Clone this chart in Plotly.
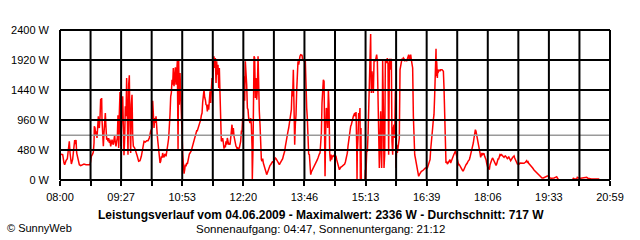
import plotly.graph_objects as go

# minutes after 08:00 , power in W
block_0800 = [
(0.0,416),(3.8,405),(5.7,272),(6.6,245),(8.5,309),(10.4,341),(11.3,432),(12.3,555),(13.2,620),(14.2,432),
(15.1,272),(16.1,256),(17.9,331),(18.9,416),(19.8,576),(20.8,640),(21.7,576),(22.7,640),(23.6,432),(24.6,379),
(25.5,341),(27.4,245),(29.3,229),(31.2,245),(34.0,256),(36.8,245),(39.7,245),(42.5,245),(43.4,299),(44.4,379),
(46.3,416),(47.2,448),(48.2,592),(48.6,859),(49.6,832),(50.5,725),(51.5,779),(52.4,672),(53.3,779),(54.3,1019),
(54.8,885),(55.7,832),(56.7,1003),(57.6,1301),(58.5,1152),(59.0,1312),(59.5,965),(60.4,619),(61.4,539),(62.3,752),
(63.3,901),(64.2,1072),(65.2,832),(66.1,645),(67.0,672),(68.0,619),(68.9,672),(69.9,592),(70.8,645),(71.8,539),
(72.7,619),(73.7,645),(74.6,592),(75.5,565),(76.5,645),(77.4,715),(78.4,592),(79.3,539),(80.3,619),(81.2,672),
(82.1,1035),(83.1,512),(84.0,1056),(85.0,1408),(85.9,539),(86.9,992),(87.8,1035),(88.8,1339),(89.7,512),(90.6,395),
(91.6,672),(92.5,1179),(93.5,1019),(94.4,1632),(95.4,992),(96.3,405),(97.3,1525),(98.2,1675),(99.1,885),(100.1,432),
(101.0,1205),(102.0,1365),(102.9,725),(103.9,539),(105.8,512),(107.6,459),(109.5,379),(111.4,299),(113.3,309),(115.2,379),
(117.1,501),(119.0,619),(120.9,608),(122.8,629),(124.7,629),(126.5,672),(128.4,779),(130.3,832),
]
block_1010 = [
(131.3,1269),(132.2,912),(133.2,832),(134.1,992),(135.1,912),(136.0,1019),(136.9,779),(137.9,699),(138.8,592),(139.8,485),
(140.7,405),(141.7,272),(142.6,299),(143.6,379),(144.5,352),(145.4,432),(146.4,379),(147.3,363),(148.3,405),(149.2,416),
(150.2,379),(151.1,432),(152.1,512),(153.0,592),(153.9,672),(154.9,832),(155.8,1045),(156.8,1339),(157.7,1392),(158.7,1605),
(159.6,1525),(160.5,1792),(161.5,1499),(162.4,1632),(163.4,1803),(164.3,1525),(165.3,1899),(166.2,1904),(167.2,496),(168.1,1904),
(169.0,1205),(170.0,1712),(170.9,1392),(171.9,779),(172.8,768),(173.8,416),(174.7,192),(175.7,101),(176.6,165),(177.5,245),
(178.5,219),(179.4,272),(180.4,256),(181.3,325),(182.3,379),(183.2,416),(184.2,432),(185.1,448),(186.0,469),(187.0,512),
(187.9,555),(188.9,576),(189.8,608),(190.8,645),(191.7,715),(192.7,752),(193.6,789),(194.5,789),(195.5,821),(196.4,843),
(197.4,885),(198.3,912),(199.3,965),(200.2,1035),(201.2,1072),(202.1,1248),(203.0,1312),(204.0,1445),(204.9,1323),(205.9,1285),
(206.8,1205),(207.8,1195),(208.7,1099),(209.6,1205),(210.6,1125),(211.5,1312),(212.5,1419),(213.4,1232),(214.4,1445),(215.3,1632),
(216.3,1605),(217.2,1899),(218.1,1979),(219.1,1792),(220.0,1952),(221.0,1552),(221.9,1899),(222.9,1685),(223.8,1845),(224.8,1472),
(225.7,1792),(226.6,1392),(227.6,939),(228.5,619),(229.5,629),(230.4,672),(231.4,592),(232.3,501),(233.3,555),(234.2,523),
(235.1,619),(236.1,565),(237.0,672),(238.0,576),(238.9,565),(239.9,592),(240.8,565),(241.8,672),(242.7,859),(243.6,885),
(244.6,725),(245.5,832),(246.5,699),(247.4,619),(248.4,592),(249.3,539),(250.3,523),(251.2,485),(252.1,512),(253.1,501),
(254.0,512),(255.0,565),(255.9,619),(256.9,779),(257.8,779),(258.7,992),(259.7,912),
]
block_1220 = [
(260.6,1659),(261.6,1269),(262.5,1899),(263.5,1739),(264.4,1525),(265.4,1152),(266.3,1125),(267.2,992),(268.2,912),(269.1,912),
(270.1,992),(271.0,885),(272.0,539),(272.4,16),(273.4,539),(274.3,1525),(274.8,1979),(275.7,1952),(276.7,1312),(277.6,1632),
(278.6,1285),(279.5,1445),(280.5,1979),(281.4,1099),(282.3,1099),(283.3,885),(284.2,565),(285.2,325),(286.1,299),(287.1,341),
(288.0,272),(289.0,245),(289.9,192),(290.8,165),(291.8,128),(292.7,85),(293.7,112),(294.6,149),(295.6,192),(296.5,219),
(297.5,235),(298.4,245),(299.3,267),(300.3,277),(301.2,299),(302.2,277),(303.1,309),(304.1,341),(305.0,352),(306.0,341),
(306.9,325),(307.8,299),(308.8,277),(309.7,256),(310.7,245),(311.6,267),(312.6,288),(313.5,299),(314.5,325),(315.4,341),
(316.3,384),(317.3,416),(318.2,459),(319.2,539),(320.1,619),(321.1,672),(322.0,752),(322.9,779),(323.9,832),(324.8,896),
(325.8,939),(326.7,992),(327.7,1125),(328.6,1445),(329.6,1339),(330.5,1765),(331.4,885),(332.4,565),(333.3,885),(334.3,1045),
(335.2,1419),(336.2,1792),(337.1,1899),(338.1,1845),(339.0,1952),(339.9,1979),(340.9,2005),(341.8,2005),(342.8,1995),(343.7,1925),
(344.7,1925),(345.6,1899),(346.6,1925),(347.5,1899),(348.4,1419),(349.4,1152),(350.3,992),(351.3,459),(352.2,416),(353.2,405),
(354.1,128),(355.1,85),(356.0,128),(357.0,149),(357.9,181),(358.8,192),(359.8,219),(360.7,235),(361.7,256),(362.6,283),
(363.6,309),(364.5,325),(365.4,352),(366.4,405),(367.3,416),(368.3,432),(369.2,565),(370.2,752),(371.1,1232),(372.1,1579),
(373.0,1605),(374.0,1579),(374.9,992),(375.4,59),(376.3,779),(377.2,1152),(378.2,1099),(379.1,832),(380.1,1445),(381.0,1205),
(382.0,432),(382.9,299),(383.9,405),(384.8,325),(385.7,379),(386.7,389),(387.6,379),(388.6,405),(390.0,379),
]
block_1430 = [
(390.9,379),(391.9,325),(392.8,272),(393.8,235),(394.7,192),(395.7,165),(396.6,181),(397.5,203),(399.4,219),(401.3,235),
(403.2,256),(404.2,288),(405.1,325),(406.0,379),(407.0,432),(407.9,539),(408.9,619),(409.8,752),(410.8,768),(411.7,859),
(412.6,885),(413.6,949),(414.5,965),(415.5,1019),(416.4,1045),(417.4,1072),(418.3,1019),(419.3,1088),(420.2,565),(420.7,0),
(421.1,448),(422.1,672),(423.0,1072),(424.0,992),(424.9,1152),(425.4,0),(426.3,832),(426.8,0),(432.0,0),(432.5,165),
(433.0,0),(434.4,448),(435.3,459),(436.3,725),(437.2,1232),(438.1,1232),(439.1,1941),(440.0,2336),(440.5,1685),(441.0,1392),
(441.9,1739),(442.9,1472),(443.8,1392),(444.8,1899),(445.7,1925),(446.6,1899),(447.6,1952),(448.5,2005),(449.5,1899),(450.4,1152),
(451.4,1003),(452.3,192),(453.3,672),(454.2,1099),(455.1,405),(455.6,192),(456.6,1099),(457.0,1925),(458.0,1152),(458.9,192),
(459.9,405),(460.8,1925),(461.8,1899),(462.7,1872),(463.6,1952),(464.6,1856),(465.5,405),(466.0,1099),(466.5,1845),(467.4,1941),
(468.4,1765),(469.3,1941),(470.2,619),(471.2,405),(472.1,832),(473.1,885),(474.0,672),(475.0,1419),(475.9,192),(476.9,565),
(477.8,432),(478.7,512),(479.7,565),(480.6,672),(481.6,1765),(482.5,1819),(483.5,1845),(484.4,1941),(485.4,1925),(486.3,1952),
(487.2,1941),(488.2,1899),(489.1,1925),(490.1,1925),(491.0,1899),(492.0,1941),(492.9,1952),(493.9,2005),(494.8,1925),(495.7,1979),
(496.7,2005),(497.6,1925),(498.6,1819),(499.5,1792),(500.5,1019),(501.4,432),(502.4,405),(503.3,352),(504.2,299),(505.2,245),
(506.1,192),(507.1,139),(508.0,59),(509.0,85),(509.9,112),(511.8,139),(513.7,149),(515.6,165),(517.5,192),(520.3,192),
]
block_1640 = [
(521.2,219),(522.2,235),(523.1,272),(524.1,325),(525.0,485),(526.0,672),(526.9,736),(527.8,832),(528.8,965),(529.7,1045),
(530.7,1365),(531.6,1605),(532.6,2101),(533.0,1659),(533.5,1899),(534.5,1632),(534.9,1765),(535.4,1712),(536.3,1749),(537.3,1765),
(538.2,1739),(539.2,1765),(541.1,1765),(543.0,1739),(543.9,1472),(544.9,965),(545.8,939),(546.3,325),(546.7,272),(547.7,299),
(548.6,256),(549.6,272),(550.5,288),(551.4,299),(552.4,325),(553.3,272),(554.3,309),(555.2,325),(556.2,352),(557.1,379),
(558.1,416),(559.0,432),(559.9,459),(560.9,432),(561.8,379),(562.8,341),(563.7,256),(564.7,235),(565.6,245),(566.6,219),
(567.5,192),(568.4,181),(569.4,165),(570.3,149),(571.3,149),(572.2,165),(573.2,192),(574.1,219),(575.1,245),(576.0,256),
(576.9,272),(577.9,299),(578.8,309),(579.8,325),(580.7,363),(581.7,405),(582.6,459),(583.5,512),(584.5,565),(585.4,592),
(586.4,672),(587.3,725),(588.3,805),(589.2,779),(590.2,725),(591.1,645),(592.0,592),(593.0,539),(593.9,512),(594.9,432),
(595.8,363),(596.8,395),(597.7,432),(598.7,405),(599.6,416),(600.5,427),(601.5,379),(602.4,363),(603.4,325),(604.3,272),
(605.3,192),(606.2,181),(607.2,203),(608.1,165),(609.1,245),(610.0,288),(611.0,309),(611.9,336),(612.8,352),(613.8,325),
(614.7,299),(615.7,272),(616.6,245),(617.6,235),(618.5,256),(619.4,309),(620.4,336),(621.3,336),(622.3,379),(623.2,405),
(624.2,395),(625.1,416),(626.1,395),(627.0,379),(627.9,379),(628.9,363),(629.8,379),(630.8,384),(631.7,373),(632.7,363),
(633.6,341),(634.6,352),(635.5,373),(636.4,352),(637.4,336),(638.3,309),(639.3,325),(640.2,352),(641.2,363),(642.1,373),
(643.1,384),(644.0,352),(644.9,325),(645.9,299),(646.8,272),(647.8,256),(648.7,256),(649.7,256),(650.6,256),
]
block_1850 = [
(651.5,272),(653.4,267),(655.3,272),(657.2,267),(659.1,283),(660.0,299),(661.0,309),(661.9,283),(662.9,293),(663.8,267),
(665.7,245),(667.6,213),(669.5,192),(671.4,160),(673.3,139),(675.1,107),(677.0,85),(678.9,69),(680.8,53),(682.7,32),
(684.6,32),(686.5,43),(688.4,64),(690.2,64),(692.1,64),(694.0,32),(695.9,27),(697.8,27),(699.7,32),(701.6,43),
(703.5,53),(704.4,32),(705.4,16),(706.3,0),(726.1,0),(727.1,32),(728.0,16),(731.8,16),(732.7,43),(733.7,32),
(735.6,27),(737.5,27),(739.3,32),(741.2,32),(743.1,43),(746.0,43),(747.8,27),(752.6,16),(762.9,16),(763.9,0),
]

span_minutes = 779            # 08:00 .. 20:59
n_div = 18
tick_labels = ["08:00", "09:27", "10:53", "12:20", "13:46", "15:13", "16:39", "18:06", "19:33", "20:59"]
y_ticks = [0, 480, 960, 1440, 1920, 2400]
y_tick_labels = ["0 W", "480 W", "960 W", "1440 W", "1920 W", "2400 W"]
average_w = 717
title_text = "Leistungsverlauf vom 04.06.2009 - Maximalwert: 2336 W - Durchschnitt: 717 W"
sun_text = "Sonnenaufgang: 04:47, Sonnenuntergang: 21:12"
copyright_text = "\u00a9 SunnyWeb"

pts = block_0800 + block_1010 + block_1220 + block_1430 + block_1640 + block_1850
xs = [p[0] for p in pts]
ys = [p[1] for p in pts]

FONT = "Liberation Sans, Arial, sans-serif"

tickvals = [k * span_minutes / n_div for k in range(n_div + 1)]
ticktext = [tick_labels[k // 2] if k % 2 == 0 else "" for k in range(n_div + 1)]

fig = go.Figure()
fig.add_trace(go.Scatter(x=xs, y=ys, mode="lines",
                         line=dict(color="#ff0000", width=1.5),
                         hoverinfo="skip"))

shapes = []
# average line
shapes.append(dict(type="line", xref="x domain", x0=0, x1=1, yref="y", y0=average_w, y1=average_w,
                   line=dict(color="#999999", width=1.5), layer="above"))
for k in range(n_div + 1):
    shapes.append(dict(type="line", xref="x domain", x0=k / n_div, x1=k / n_div,
                       yref="y domain", y0=0, y1=1,
                       line=dict(color="black", width=2), layer="above"))
for k in range(len(y_ticks)):
    f = (y_ticks[k] - y_ticks[0]) / (y_ticks[-1] - y_ticks[0])
    shapes.append(dict(type="line", xref="x domain", x0=0, x1=1,
                       yref="y domain", y0=f, y1=f,
                       line=dict(color="black", width=2), layer="above"))

fig.update_layout(
    width=640, height=240,
    margin=dict(l=60, r=30, t=30, b=60),
    paper_bgcolor="white", plot_bgcolor="white",
    showlegend=False,
    font=dict(family=FONT, size=11, color="black"),
    shapes=shapes,
    xaxis=dict(range=[0, span_minutes], tickvals=tickvals, ticktext=ticktext,
               showgrid=False, zeroline=False, showline=False,
               ticks="outside", ticklen=5, tickwidth=2, tickcolor="black",
               ticklabelstandoff=2,
               tickfont=dict(family=FONT, size=11, color="black"), fixedrange=True),
    yaxis=dict(range=[y_ticks[0], y_ticks[-1]], tickvals=y_ticks, ticktext=y_tick_labels,
               showgrid=False, zeroline=False, showline=False, ticks="",
               ticklabelstandoff=10,
               tickfont=dict(family=FONT, size=11, color="black"), fixedrange=True),
    annotations=[
        dict(text="<b>" + title_text + "</b>", xref="paper", yref="paper", x=0.4745, y=-0.2333,
             xanchor="center", yanchor="middle", showarrow=False,
             font=dict(family=FONT, size=12, color="black")),
        dict(text=sun_text, xref="paper", yref="paper", x=0.4745, y=-0.3267,
             xanchor="center", yanchor="middle", showarrow=False,
             font=dict(family=FONT, size=11.5, color="black")),
        dict(text=copyright_text, xref="paper", yref="paper", x=-0.1, y=-0.32,
             xanchor="left", yanchor="middle", showarrow=False,
             font=dict(family=FONT, size=11, color="black")),
    ],
)

fig.write_html("out.html", config={"displayModeBar": False})
